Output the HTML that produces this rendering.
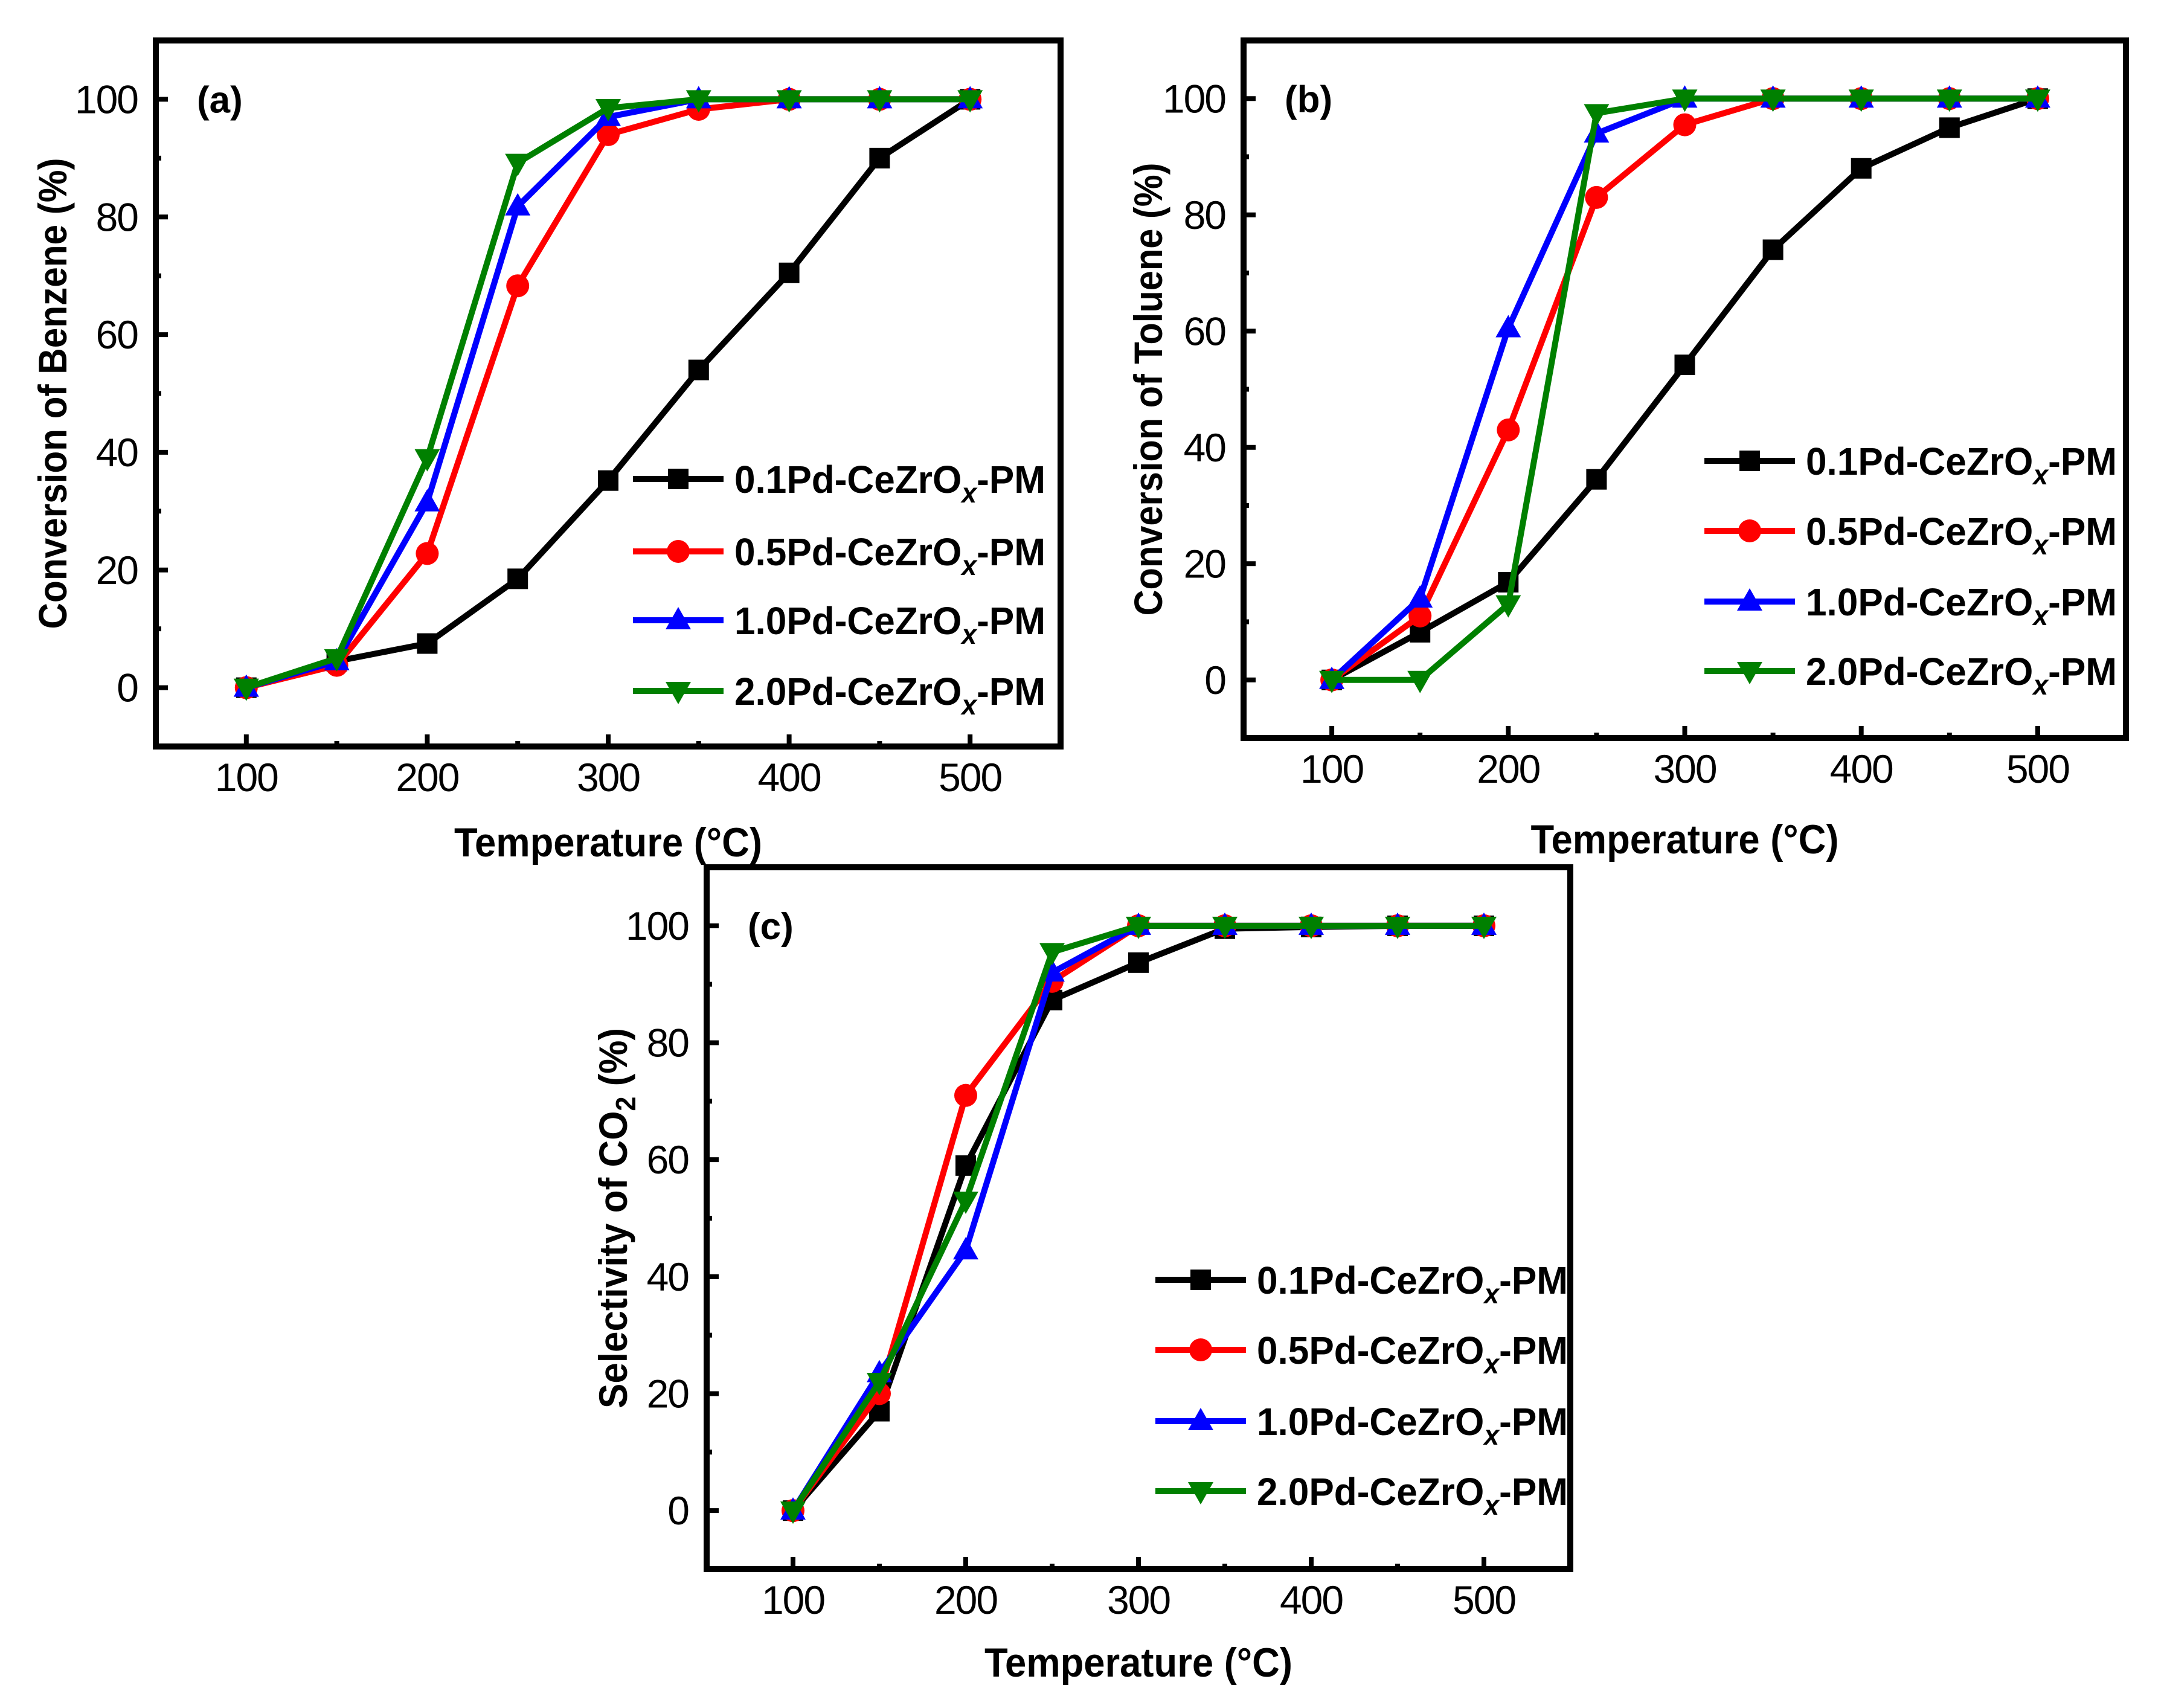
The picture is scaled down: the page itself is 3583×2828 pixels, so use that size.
<!DOCTYPE html>
<html><head><meta charset="utf-8">
<style>
html,body{margin:0;padding:0;background:#fff;}
svg{display:block;}
text{font-family:"Liberation Sans",Arial,sans-serif;}
</style></head>
<body>
<svg id="fig" width="3583" height="2828" viewBox="0 0 3583 2828" xmlns="http://www.w3.org/2000/svg"></svg>
<script>
const temps = [100,150,200,250,300,350,400,450,500];
const seriesNames = ["0.1Pd-CeZrO","0.5Pd-CeZrO","1.0Pd-CeZrO","2.0Pd-CeZrO"];
const xTicks = [100,200,300,400,500];
const yTicks = [0,20,40,60,80,100];
// panel (a) benzene conversion
const aBlack = [0,4.5,7.5,18.5,35.2,54,70.5,90,100];
const aRed   = [0,3.8,22.8,68.3,94,98.3,100,100,100];
const aBlue  = [0,4.5,31.5,81.8,97,100,100,100,100];
const aGreen = [0,5,39,89.2,98.5,100,100,100,100];
// panel (b) toluene conversion
const bBlack = [0,8.2,16.8,34.5,54.2,74,88,95,100];
const bRed   = [0,11,43,83,95.5,100,100,100,100];
const bBlue  = [0,14,60.5,94,100,100,100,100,100];
const bGreen = [0,0,13,97.5,100,100,100,100,100];
// panel (c) CO2 selectivity
const cBlack = [0,17,59,87.3,93.7,99.5,99.8,100,100];
const cRed   = [0,20,71,90.5,100,100,100,100,100];
const cBlue  = [0,23.5,44.5,92,100,100,100,100,100];
const cGreen = [0,22,53,95.5,100,100,100,100,100];

const NS="http://www.w3.org/2000/svg";
const svg=document.getElementById('fig');
function mk(tag,attrs,parent){const e=document.createElementNS(NS,tag);for(const k in attrs)e.setAttribute(k,attrs[k]);(parent||svg).appendChild(e);return e;}
const colors=["#000000","#ff0000","#0000ff","#008000"];
const markers=["square","circle","up","down"];

function marker(g,type,cx,cy,color){
  let e;
  if(type==="square") e=mk('rect',{x:cx-17,y:cy-17,width:34,height:34,fill:color},g);
  else if(type==="circle") e=mk('circle',{cx:cx,cy:cy,r:19,fill:color},g);
  else if(type==="up") e=mk('polygon',{points:`${cx},${cy-22} ${cx-21},${cy+15} ${cx+21},${cy+15}`,fill:color},g);
  else e=mk('polygon',{points:`${cx},${cy+22} ${cx-21},${cy-15} ${cx+21},${cy-15}`,fill:color},g);
  
  
  return e;
}

function panel(cfg){
  const [L,T,R,B]=cfg.frame;
  const g=mk('g',{});
  
  
  const X=v=>L+(v-50)/500*(R-L);
  const Y=v=>B-(v+10)/120*(B-T);
  for(let v=100;v<=500;v+=50){
    const len=(v%100===0)?20:9;
    const t=mk('line',{x1:X(v),x2:X(v),y1:B,y2:B-len,stroke:'#000','stroke-width':8},g);
    
    
  }
  for(let v=0;v<=100;v+=10){
    const len=(v%20===0)?20:9;
    const t=mk('line',{x1:L,x2:L+len,y1:Y(v),y2:Y(v),stroke:'#000','stroke-width':8},g);
    
    
  }
  xTicks.forEach(v=>{
    const t=mk('text',{x:X(v),y:B+74,'font-size':66,'text-anchor':'middle','letter-spacing':-2},g);
    t.textContent=v;
    
    
  });
  yTicks.forEach(v=>{
    const t=mk('text',{x:L-30,y:Y(v)+23,'font-size':66,'text-anchor':'end','letter-spacing':-2},g);
    t.textContent=v;
    
    
  });
  cfg.series.forEach((vals,i)=>{
    const pts=temps.map((t,j)=>X(t)+','+Y(vals[j])).join(' ');
    const pl=mk('polyline',{points:pts,fill:'none',stroke:colors[i],'stroke-width':10,'stroke-linejoin':'round'},g);
    
    
    temps.forEach((t,j)=>marker(g,markers[i],X(t),Y(vals[j]),colors[i]));
  });
  const fr=mk('rect',{x:L,y:T,width:R-L,height:B-T,fill:'none',stroke:'#000','stroke-width':10},g);
  
  
  const pl=mk('text',{x:L+68,y:Y(100)+22,'font-size':62,'font-weight':'bold'},g);
  pl.textContent='('+cfg.id+')';
  
  
  const lg=mk('g',{},g);
  
  
  cfg.legendRows.forEach((ry,i)=>{
    const e=mk('g',{},lg);
    
    
    mk('line',{x1:cfg.legendX,x2:cfg.legendX+150,y1:ry,y2:ry,stroke:colors[i],'stroke-width':10},e);
    marker(e,markers[i],cfg.legendX+75,ry,colors[i]);
    const t=mk('text',{x:cfg.legendX+168,y:ry+23,'font-size':64,'font-weight':'bold','textLength':515,'lengthAdjust':'spacingAndGlyphs'},e);
    t.innerHTML=seriesNames[i]+'<tspan font-style="italic" font-size="46" dy="16">x</tspan><tspan dy="-16">-PM</tspan>';
  });
  const xt=mk('text',{x:(L+R)/2,y:cfg.xTitleY,'font-size':68,'font-weight':'bold','text-anchor':'middle','textLength':510,'lengthAdjust':'spacingAndGlyphs'},g);
  xt.textContent='Temperature (°C)';
  
  
  const yt=mk('text',{x:0,y:0,'font-size':66,'font-weight':'bold','text-anchor':'middle','textLength':cfg.yLen,'lengthAdjust':'spacingAndGlyphs',transform:`translate(${cfg.yTitleX},${(T+B)/2}) rotate(-90)`},g);
  yt.innerHTML=cfg.yTitle;
  
  
}

panel({id:'a',frame:[258,67,1756,1236],series:[aBlack,aRed,aBlue,aGreen],
  legendX:1048,legendRows:[793,913,1027,1144],xTitleY:1418,yTitleX:110,yLen:780,
  yTitle:'Conversion of Benzene (%)'});
panel({id:'b',frame:[2059,67,3520,1222],series:[bBlack,bRed,bBlue,bGreen],
  legendX:2822,legendRows:[763,879,996,1111],xTitleY:1413,yTitleX:1924,yLen:750,
  yTitle:'Conversion of Toluene (%)'});
panel({id:'c',frame:[1170,1436,2600,2598],series:[cBlack,cRed,cBlue,cGreen],
  legendX:1913,legendRows:[2119,2235,2353,2469],xTitleY:2776,yTitleX:1038,yLen:630,
  yTitle:'Selectivity of CO<tspan font-size="46" dy="14">2</tspan><tspan dy="-14"> (%)</tspan>'});
</script>
</body></html>
